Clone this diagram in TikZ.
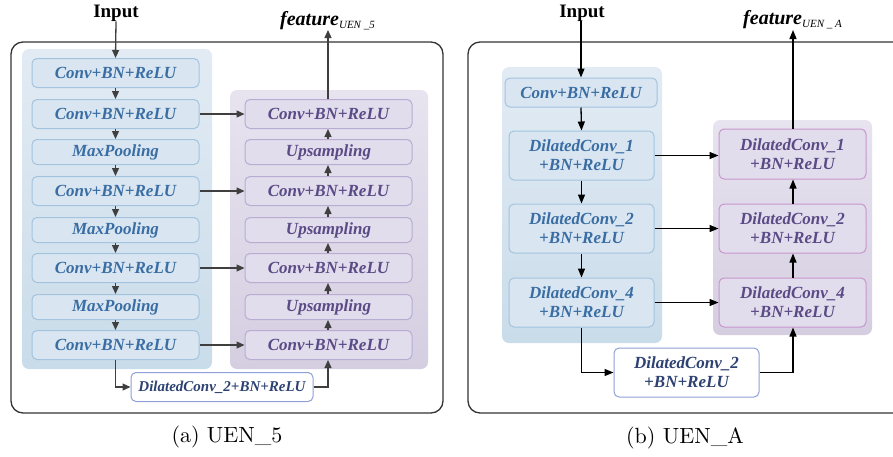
\documentclass[tikz,border=0pt]{standalone}
\usepackage{fontspec}
\newfontfamily\tnr{Liberation Serif}
\newfontfamily\capfont{lmroman10-regular.otf}
\usetikzlibrary{arrows.meta,calc}
\definecolor{bluebgT}{HTML}{E2EBF4}
\definecolor{bluebgB}{HTML}{C9DCEA}
\definecolor{purbgT}{HTML}{E7E3EF}
\definecolor{purbgB}{HTML}{D5CEE1}
\definecolor{blueboxfill}{HTML}{D9E6F1}
\definecolor{blueborder}{HTML}{A3C3DE}
\definecolor{bluetext}{HTML}{3A6DA3}
\definecolor{purboxfill}{HTML}{E2DDEC}
\definecolor{purborder}{HTML}{B8ACD2}
\definecolor{purborderB}{HTML}{C796CC}
\definecolor{purtext}{HTML}{5A4A86}
\definecolor{dilborder}{HTML}{8FA1D8}
\definecolor{diltext}{HTML}{2D4272}
\definecolor{arrgray}{HTML}{3F3F3F}
\begin{document}
\begin{tikzpicture}[x=1pt,y=-1pt,
  boxfont/.style={font=\tnr\bfseries\itshape\fontsize{17}{19}\selectfont},
  bbox/.style={boxfont,rounded corners=5pt,draw=blueborder,fill=blueboxfill,line width=1pt,text=bluetext,inner sep=0pt,align=center},
  pbox/.style={boxfont,rounded corners=5pt,draw=purborder,fill=purboxfill,line width=1pt,text=purtext,inner sep=0pt,align=center},
  pboxB/.style={pbox,draw=purborderB},
  dbox/.style={boxfont,rounded corners=5pt,draw=dilborder,fill=white,line width=1pt,text=diltext,inner sep=0pt,align=center},
  conv/.style={minimum width=167pt,minimum height=29pt},
  pool/.style={minimum width=167pt,minimum height=25pt},
  garr/.style={draw=arrgray,line width=1.3pt,-{Triangle[length=8pt,width=7pt]}},
  karr/.style={draw=black,line width=1.3pt,-{Triangle[length=9pt,width=7pt]}},
  lbl/.style={font=\tnr\bfseries\fontsize{19}{22}\selectfont,inner sep=0pt},
  captxt/.style={font=\capfont\fontsize{22}{26}\selectfont,inner sep=0pt},
  bgblue/.style={rounded corners=7pt,top color=bluebgT,bottom color=bluebgB,draw=none},
  bgpur/.style={rounded corners=7pt,top color=purbgT,bottom color=purbgB,draw=none},
  outer/.style={rounded corners=12pt,draw=black!80,line width=1.3pt}
]
\useasboundingbox (0,0) rectangle (893,456);
\fill[white] (0,0) rectangle (893,456);

% ---------------- (a) UEN_5 ----------------
\draw[outer] (11,42) rectangle (443,413);
\path[bgblue] (22,49) rectangle (212,369);
\path[bgpur] (230,90) rectangle (428,369);

\node[bbox,conv] (b1) at (115.5,73) {Conv+BN+ReLU};
\node[bbox,conv] (b2) at (115.5,114) {Conv+BN+ReLU};
\node[bbox,pool] (b3) at (115.5,152) {MaxPooling};
\node[bbox,conv] (b4) at (115.5,191) {Conv+BN+ReLU};
\node[bbox,pool] (b5) at (115.5,230) {MaxPooling};
\node[bbox,conv] (b6) at (115.5,268) {Conv+BN+ReLU};
\node[bbox,pool] (b7) at (115.5,307) {MaxPooling};
\node[bbox,conv] (b8) at (115.5,345) {Conv+BN+ReLU};

\node[pbox,conv] (p1) at (328.5,114) {Conv+BN+ReLU};
\node[pbox,pool] (p2) at (328.5,152) {Upsampling};
\node[pbox,conv] (p3) at (328.5,191) {Conv+BN+ReLU};
\node[pbox,pool] (p4) at (328.5,230) {Upsampling};
\node[pbox,conv] (p5) at (328.5,268) {Conv+BN+ReLU};
\node[pbox,pool] (p6) at (328.5,307) {Upsampling};
\node[pbox,conv] (p7) at (328.5,345) {Conv+BN+ReLU};

\node[dbox,minimum width=182pt,minimum height=29pt,font=\tnr\bfseries\itshape\fontsize{15}{17}\selectfont] (d) at (222,387) {DilatedConv\_2+BN+ReLU};

\node[lbl] (inA) at (116,13) {Input};
\node[inner sep=0pt,anchor=base west] (featA) at (280,25) {\tnr\bfseries\itshape\fontsize{20}{22}\selectfont feature\textsubscript{\mdseries\fontsize{11}{12}\selectfont UEN \_5}};

\draw[garr] (inA.south) -- (b1.north);
\foreach \a/\b in {b1/b2,b2/b3,b3/b4,b4/b5,b5/b6,b6/b7,b7/b8}
  \draw[garr] (\a.south) -- (\b.north);
\foreach \a/\b in {p7/p6,p6/p5,p5/p4,p4/p3,p3/p2,p2/p1}
  \draw[garr] (\a.north -| 328,0) -- (\b.south -| 328,0);
\foreach \a/\b in {b2/p1,b4/p3,b6/p5,b8/p7}
  \draw[garr] (\a.east) -- (\b.west);
\coordinate (fA) at (328,30);
\draw[garr] (p1.north -| fA) -- (fA);
\draw[garr] (b8.south) |- (d.west);
\draw[garr] (d.east) -| (p7.south -| fA);

\node[captxt] (capA) at (227,437) {(a) UEN\_5};

% ---------------- (b) UEN_A ----------------
\draw[outer] (468,42) rectangle (910,413);
\path[bgblue] (502,67) rectangle (662,343);
\path[bgpur] (713,120) rectangle (872,335);

\node[bbox,minimum width=152pt,minimum height=29pt] (r1) at (581,92.5) {Conv+BN+ReLU};
\node[bbox,minimum width=145pt,minimum height=49pt] (r2) at (581.5,155.5) {DilatedConv\_1\\+BN+ReLU};
\node[bbox,minimum width=145pt,minimum height=49pt] (r3) at (581.5,228.5) {DilatedConv\_2\\+BN+ReLU};
\node[bbox,minimum width=145pt,minimum height=49pt] (r4) at (581.5,302.5) {DilatedConv\_4\\+BN+ReLU};

\node[pboxB,minimum width=147pt,minimum height=50pt] (q1) at (792.5,154) {DilatedConv\_1\\+BN+ReLU};
\node[pboxB,minimum width=147pt,minimum height=49pt] (q2) at (792.5,228.5) {DilatedConv\_2\\+BN+ReLU};
\node[pboxB,minimum width=147pt,minimum height=49pt] (q3) at (792.5,302.5) {DilatedConv\_4\\+BN+ReLU};

\node[dbox,minimum width=145pt,minimum height=49pt] (rd) at (686.5,372.5) {DilatedConv\_2\\+BN+ReLU};

\node[lbl] (inB) at (582,13) {Input};
\node[inner sep=0pt,anchor=base west] (featB) at (743,24) {\tnr\bfseries\itshape\fontsize{20}{22}\selectfont feature\textsubscript{\mdseries\fontsize{11}{12}\selectfont UEN \_ A}};

\coordinate (fB) at (793,30);
\draw[karr] (inB.south -| r1.north) -- (r1.north);
\draw[karr] (r1.south) -- (r2.north);
\draw[karr] (r2.south) -- (r3.north);
\draw[karr] (r3.south) -- (r4.north);
\draw[karr] (r2.east) -- (r2.east -| q1.west);
\draw[karr] (r3.east) -- (r3.east -| q2.west);
\draw[karr] (r4.east) -- (r4.east -| q3.west);
\draw[karr] (q3.north -| fB) -- (q2.south -| fB);
\draw[karr] (q2.north -| fB) -- (q1.south -| fB);
\draw[karr] (q1.north -| fB) -- (fB);
\draw[karr] (r4.south) |- (rd.west);
\draw[karr] (rd.east) -| (q3.south -| fB);

\node[captxt] (capB) at (685,438) {(b) UEN\_A};
\end{tikzpicture}
\end{document}
